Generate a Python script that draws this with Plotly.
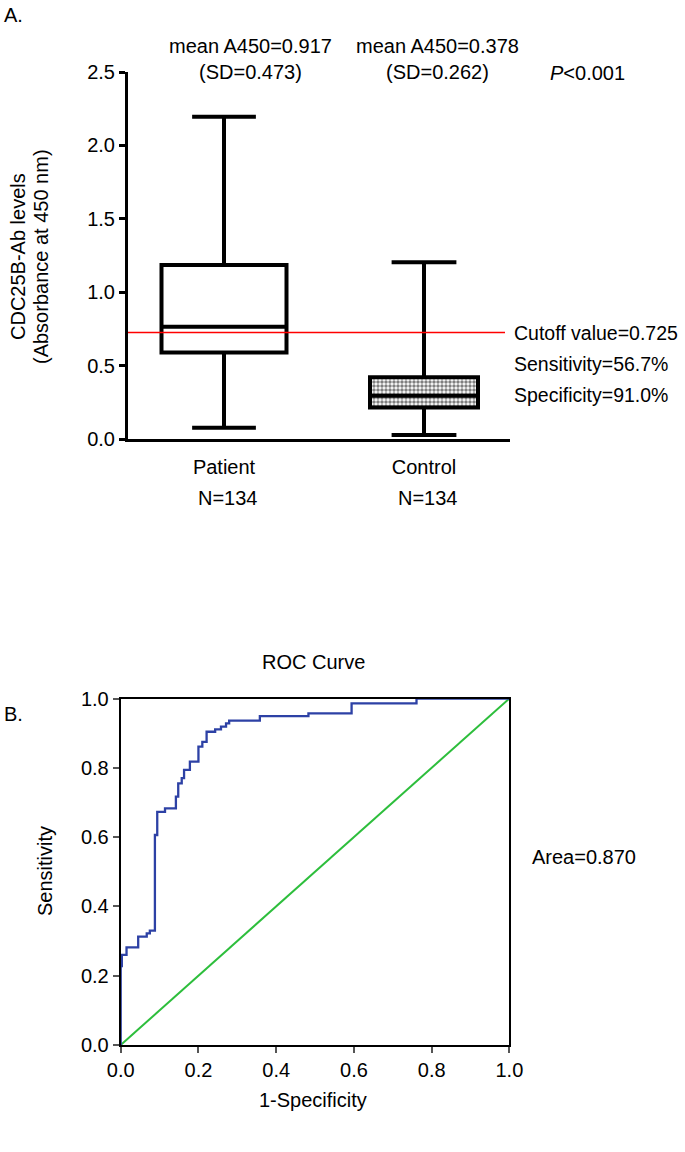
import plotly.graph_objects as go

W, H = 685, 1152

# ---------------- Panel A data ----------------
groups = ["Patient", "Control"]
n_labels = ["N=134", "N=134"]
q1 = [0.59, 0.215]
median = [0.765, 0.295]
q3 = [1.185, 0.42]
lower_fence = [0.077, 0.027]
upper_fence = [2.196, 1.204]
mean_text = ["mean A450=0.917<br>(SD=0.473)", "mean A450=0.378<br>(SD=0.262)"]
cutoff = 0.725
cutoff_lines = ["Cutoff value=0.725", "Sensitivity=56.7%", "Specificity=91.0%"]
yticks_a = [0.0, 0.5, 1.0, 1.5, 2.0, 2.5]

# ---------------- Panel B data ----------------
roc_fpr = [0.0, 0.0, 0.003, 0.015, 0.045, 0.067, 0.075, 0.088, 0.094, 0.114,
           0.142, 0.148, 0.157, 0.163, 0.178, 0.2, 0.21, 0.221, 0.243, 0.258,
           0.271, 0.279, 0.358, 0.483, 0.594, 0.761, 1.0]
roc_tpr = [0.0, 0.228, 0.26, 0.282, 0.3125, 0.322, 0.33, 0.606, 0.673, 0.683,
           0.717, 0.755, 0.77, 0.794, 0.818, 0.861, 0.875, 0.904, 0.911, 0.919,
           0.928, 0.936, 0.949, 0.957, 0.986, 1.0, 1.0]
ref_line = [0.0, 1.0]
ticks_b = [0.0, 0.2, 0.4, 0.6, 0.8, 1.0]
area_text = "Area=0.870"

FONT = "Liberation Sans, Arial, sans-serif"
FS = 20


def px_x(p):
    return p / W


def px_y(p):
    return 1 - p / H


box_widths = [0.625, 0.54]
whisker_w = [0.51, 0.6]

fig = go.Figure()

# checkered fill for the control box (two bands split at the median)
pat = dict(shape=".", fgcolor="black", bgcolor="white", size=4, solidity=0.6)
fig.add_trace(go.Bar(
    x=[groups[1]], y=[median[1] - q1[1]], base=[q1[1]], width=box_widths[1],
    marker=dict(color="white", line=dict(width=0), pattern=pat),
    xaxis="x", yaxis="y", showlegend=False, hoverinfo="skip"))
fig.add_trace(go.Bar(
    x=[groups[1]], y=[q3[1] - median[1]], base=[median[1]], width=box_widths[1],
    marker=dict(color="white", line=dict(width=0), pattern=pat),
    xaxis="x", yaxis="y", showlegend=False, hoverinfo="skip"))

for i, g in enumerate(groups):
    fig.add_trace(go.Box(
        x=[g], q1=[q1[i]], median=[median[i]], q3=[q3[i]],
        lowerfence=[lower_fence[i]], upperfence=[upper_fence[i]],
        width=box_widths[i], whiskerwidth=whisker_w[i],
        line=dict(color="black", width=4),
        fillcolor="white" if i == 0 else "rgba(0,0,0,0)",
        boxpoints=False, xaxis="x", yaxis="y", showlegend=False))

# ROC panel
fig.add_trace(go.Scatter(x=ref_line, y=ref_line, mode="lines",
                         line=dict(color="rgb(45,190,60)", width=2),
                         xaxis="x2", yaxis="y2", showlegend=False))
fig.add_trace(go.Scatter(x=roc_fpr, y=roc_tpr, mode="lines",
                         line=dict(color="rgb(45,65,165)", width=2.3, shape="hv"),
                         xaxis="x2", yaxis="y2", showlegend=False))

layout = dict(
    width=W, height=H,
    margin=dict(l=0, r=0, t=0, b=0, autoexpand=False),
    paper_bgcolor="white", plot_bgcolor="white",
    font=dict(family=FONT, size=FS, color="black"),
    barmode="overlay", boxmode="overlay", bargap=0,
    xaxis=dict(domain=[px_x(128), px_x(510)], type="category",
               categoryorder="array", categoryarray=groups,
               range=[-0.48, 1.43], showline=True, linecolor="black", linewidth=3,
               ticks="outside", ticklen=8, tickcolor="rgba(0,0,0,0)",
               showgrid=False, zeroline=False, anchor="y",
               tickfont=dict(size=FS)),
    yaxis=dict(domain=[px_y(439), px_y(72)], range=[0, 2.5],
               tickvals=yticks_a, tickformat=".1f",
               showline=True, linecolor="black", linewidth=3,
               ticks="outside", ticklen=6, tickwidth=3, tickcolor="black",
               showgrid=False, zeroline=False, anchor="x",
               tickfont=dict(size=FS)),
    xaxis2=dict(domain=[px_x(120.7), px_x(509.4)], range=[0, 1],
                tickvals=ticks_b, tickformat=".1f",
                showline=True, mirror=True, linecolor="black", linewidth=2,
                ticks="outside", ticklen=6, tickwidth=1.5, tickcolor="#555",
                showgrid=False, zeroline=False, anchor="y2",
                tickfont=dict(size=FS)),
    yaxis2=dict(domain=[px_y(1045), px_y(698.5)], range=[0, 1],
                tickvals=ticks_b, tickformat=".1f",
                showline=True, mirror=True, linecolor="black", linewidth=2,
                ticks="outside", ticklen=6, tickwidth=1.5, tickcolor="#555",
                showgrid=False, zeroline=False, anchor="x2",
                tickfont=dict(size=FS)),
)
fig.update_layout(**layout)

fig.add_shape(type="line", xref="x domain", yref="y", x0=0, x1=(505 - 128) / (510 - 128),
              y0=cutoff, y1=cutoff, line=dict(color="red", width=1.5), layer="above")

mean_centers_px = [250, 437]
n_centers_px = [228, 428]

ann = []
ann.append(dict(text="A.", x=px_x(2), y=px_y(15), xanchor="left", yanchor="middle"))
ann.append(dict(text="B.", x=px_x(2), y=px_y(714), xanchor="left", yanchor="middle"))
for i, g in enumerate(groups):
    ann.append(dict(text=mean_text[i], x=px_x(mean_centers_px[i]), y=px_y(59),
                    xanchor="center", yanchor="middle"))
    ann.append(dict(text=n_labels[i], x=px_x(n_centers_px[i]), y=px_y(498),
                    xanchor="center", yanchor="middle"))
ann.append(dict(text="<i>P</i><0.001", x=px_x(548), y=px_y(73), xanchor="left", yanchor="middle"))
for k, t in enumerate(cutoff_lines):
    ann.append(dict(text=t, x=px_x(512), y=px_y(333 + 31 * k), xanchor="left", yanchor="middle",
                    font_size=19.5))
ann.append(dict(text="CDC25B-Ab levels", x=px_x(18), y=px_y(257), textangle=-90,
                xanchor="center", yanchor="middle"))
ann.append(dict(text="(Absorbance at 450 nm)", x=px_x(41), y=px_y(257), textangle=-90,
                xanchor="center", yanchor="middle"))
ann.append(dict(text="ROC Curve", x=px_x(313), y=px_y(662), xanchor="center", yanchor="middle"))
ann.append(dict(text=area_text, x=px_x(530), y=px_y(857), xanchor="left", yanchor="middle"))
ann.append(dict(text="Sensitivity", x=px_x(45), y=px_y(871), textangle=-90,
                xanchor="center", yanchor="middle"))
ann.append(dict(text="1-Specificity", x=px_x(313), y=px_y(1100), xanchor="center",
                yanchor="middle"))
for a in ann:
    a.setdefault("xref", "paper")
    a.setdefault("yref", "paper")
    a["showarrow"] = False
    size = a.pop("font_size", FS)
    a["font"] = dict(family=FONT, size=size, color="black")
fig.update_layout(annotations=ann)

fig.write_html("out.html", config={"displayModeBar": False},
               post_script="document.body.style.margin='0';document.body.style.overflow='hidden';")
